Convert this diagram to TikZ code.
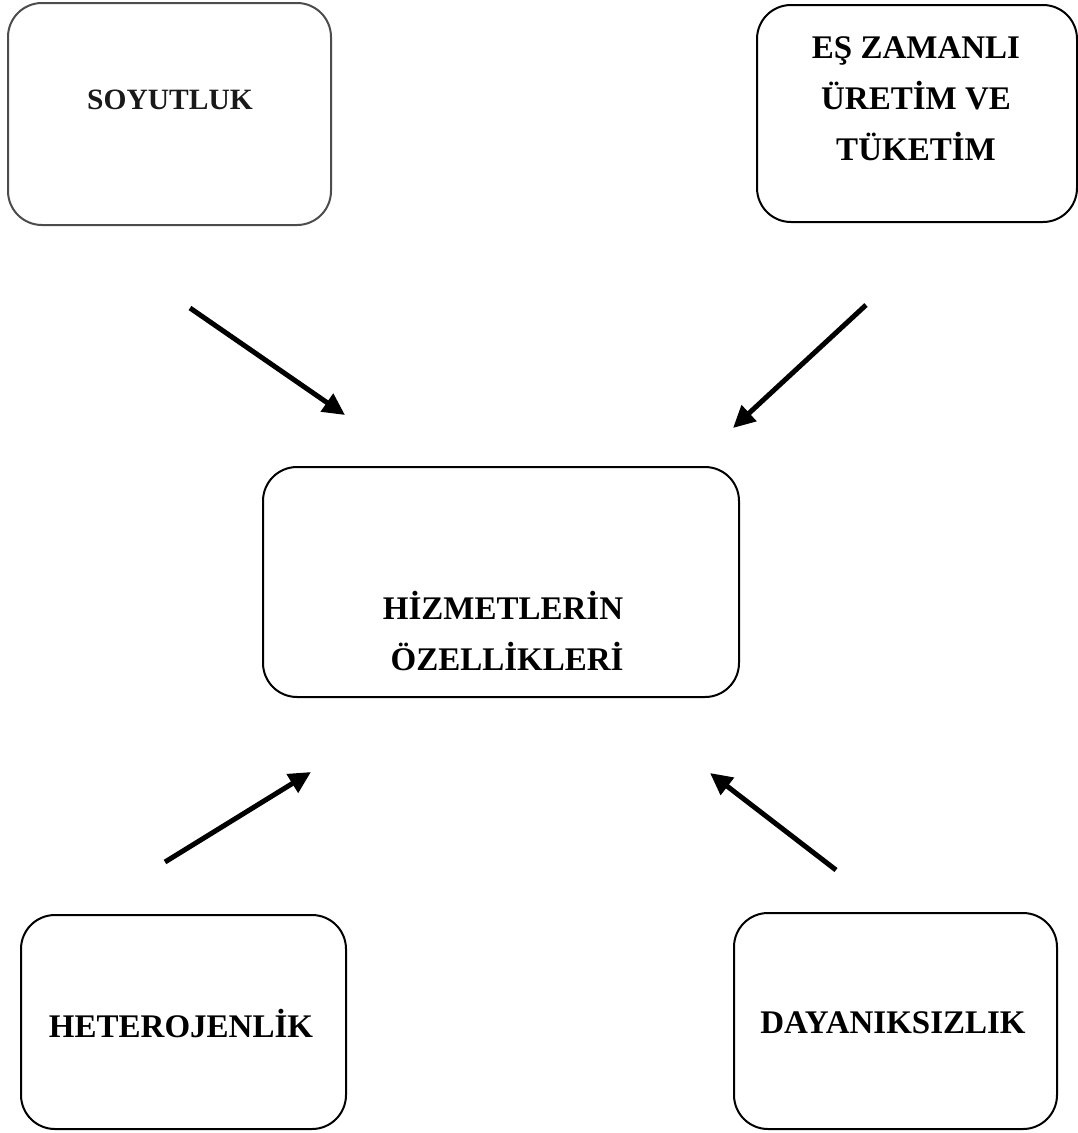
\documentclass[tikz,border=0pt]{standalone}
\usepackage{fontspec}
\setmainfont{Liberation Serif}
\usetikzlibrary{arrows.meta}
\begin{document}
\begin{tikzpicture}[x=1pt,y=-1pt,
  box/.style={draw, line width=2pt, rounded corners=34pt, inner sep=0pt},
  lbl/.style={font=\fontsize{33}{51}\selectfont\bfseries, align=center, inner sep=0pt},
  arr/.style={line width=5pt, -{Triangle[length=22pt,width=21pt]}}]
\useasboundingbox (0,0) rectangle (1078,1133);
% boxes
\node[box, draw=black!70, minimum width=323pt, minimum height=222pt] (b1) at (169.5,114) {};
\node[box, minimum width=320pt, minimum height=217pt] (b2) at (917,113.5) {};
\node[box, minimum width=476pt, minimum height=230pt] (b3) at (501,582) {};
\node[box, minimum width=325pt, minimum height=214pt] (b4) at (183.5,1022) {};
\node[box, minimum width=323pt, minimum height=216pt] (b5) at (895.5,1021) {};
% texts
\node[lbl, font=\fontsize{29.5}{51}\selectfont\bfseries, text=black!90] (t1) at (170,100) {SOYUTLUK};
\node[lbl] (t2) at (916,99) {EŞ ZAMANLI\\ÜRETİM VE\\TÜKETİM};
\node[lbl] (t3) at (503,631) {HİZMETLERİN\\ \ ÖZELLİKLERİ};
\node[lbl] (t4) at (181,1024) {HETEROJENLİK};
\node[lbl] (t5) at (893,1023) {DAYANIKSIZLIK};
% arrow ends
\coordinate (a1s) at (190,308); \coordinate (a1e) at (345,415);
\coordinate (a2s) at (866,305); \coordinate (a2e) at (733,428);
\coordinate (a3s) at (165,862); \coordinate (a3e) at (311,772);
\coordinate (a4s) at (836,870); \coordinate (a4e) at (710,773);
\draw[arr] (a1s) -- (a1e);
\draw[arr] (a2s) -- (a2e);
\draw[arr] (a3s) -- (a3e);
\draw[arr] (a4s) -- (a4e);
\end{tikzpicture}
\end{document}
